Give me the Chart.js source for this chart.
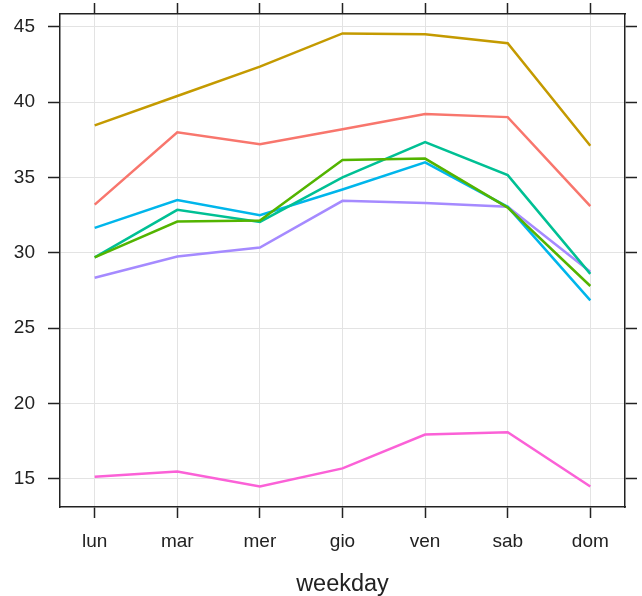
<!DOCTYPE html>
<html>
<head>
<meta charset="utf-8">
<script src="https://cdn.jsdelivr.net/npm/chart.js@4/dist/chart.umd.min.js"></script>
<style>
  html, body { margin: 0; padding: 0; background: #fff; }
  #wrap { width: 642px; height: 596px; }
</style>
</head>
<body>
<div id="wrap"><canvas id="graph" width="642" height="596"></canvas></div>
<script>
// giorni della settimana
const days = ["lun", "mar", "mer", "gio", "ven", "sab", "dom"];
const yTicks = [15, 20, 25, 30, 35, 40, 45];

// una serie per linea
const s1 = [33.2, 38.0, 37.2, 38.2, 39.2, 39.0, 33.1];
const s2 = [38.45, 40.4, 42.35, 44.55, 44.5, 43.9, 37.1];
const s3 = [29.7, 32.07, 32.15, 36.15, 36.25, 33.0, 27.8];
const s4 = [29.7, 32.85, 32.05, 35.0, 37.35, 35.15, 28.6];
const s5 = [31.65, 33.5, 32.5, 34.2, 36.0, 33.05, 26.85];
const s6 = [28.35, 29.75, 30.35, 33.45, 33.3, 33.05, 28.75];
const s7 = [15.15, 15.5, 14.5, 15.7, 17.95, 18.1, 14.5];

const series = [s1, s2, s3, s4, s5, s6, s7];
const colors = ["#F8766D", "#C49A00", "#53B400", "#00C094", "#00B6EB", "#A58AFF", "#FB61D7"];

const font = { family: "'Liberation Sans', Arial, sans-serif", size: 19 };
const dark = "#222";

function noPad(sc) {
    sc.paddingTop = 0; sc.paddingBottom = 0;
    sc.paddingLeft = 0; sc.paddingRight = 0;
}

const ctx = document.getElementById("graph").getContext("2d");

let myChart = new Chart(ctx, {
    type: "line",
    data: {
        datasets: series.map((s, k) => ({
            data: s.map((v, i) => ({ x: i, y: v })),
            borderColor: colors[k],
            borderWidth: 2.5,
            pointRadius: 0,
            tension: 0,
            fill: false
        }))
    },
    options: {
        responsive: false,
        animation: false,
        layout: { padding: 0 },
        plugins: { legend: { display: false }, tooltip: { enabled: false } },
        scales: {
            x: {
                type: "linear",
                position: "bottom",
                min: -0.42, max: 6.42,
                afterBuildTicks: sc => { sc.ticks = days.map((d, i) => ({ value: i })); },
                afterFit: sc => { sc.height = 89; noPad(sc); },
                ticks: { callback: v => days[v], font: font, color: dark, padding: 12, maxRotation: 0 },
                grid: { color: "#e3e3e3", lineWidth: 1, tickColor: dark, tickWidth: 1.5, tickLength: 11 },
                border: { display: true, color: dark, width: 1.5 },
                title: { display: true, text: "weekday", color: dark, padding: 0,
                         font: { family: font.family, size: 23.5, lineHeight: 1 } }
            },
            x2: {
                type: "linear",
                position: "top",
                min: -0.42, max: 6.42,
                afterBuildTicks: sc => { sc.ticks = days.map((d, i) => ({ value: i })); },
                afterFit: sc => { sc.height = 14; noPad(sc); },
                ticks: { display: false },
                grid: { drawOnChartArea: false, tickColor: dark, tickWidth: 1.5, tickLength: 11 },
                border: { display: true, color: dark, width: 1.5 }
            },
            y: {
                type: "linear",
                position: "left",
                min: 13.14, max: 45.84,
                afterBuildTicks: sc => { sc.ticks = yTicks.map(v => ({ value: v })); },
                afterFit: sc => { sc.width = 60; noPad(sc); },
                ticks: { font: font, color: dark, padding: 13 },
                grid: { color: "#e3e3e3", lineWidth: 1, tickColor: dark, tickWidth: 1.5, tickLength: 12 },
                border: { display: true, color: dark, width: 1.5 }
            },
            y2: {
                type: "linear",
                position: "right",
                min: 13.14, max: 45.84,
                afterBuildTicks: sc => { sc.ticks = yTicks.map(v => ({ value: v })); },
                afterFit: sc => { sc.width = 17; noPad(sc); },
                ticks: { display: false },
                grid: { drawOnChartArea: false, tickColor: dark, tickWidth: 1.5, tickLength: 12 },
                border: { display: true, color: dark, width: 1.5 }
            }
        }
    }
});
</script>
</body>
</html>
